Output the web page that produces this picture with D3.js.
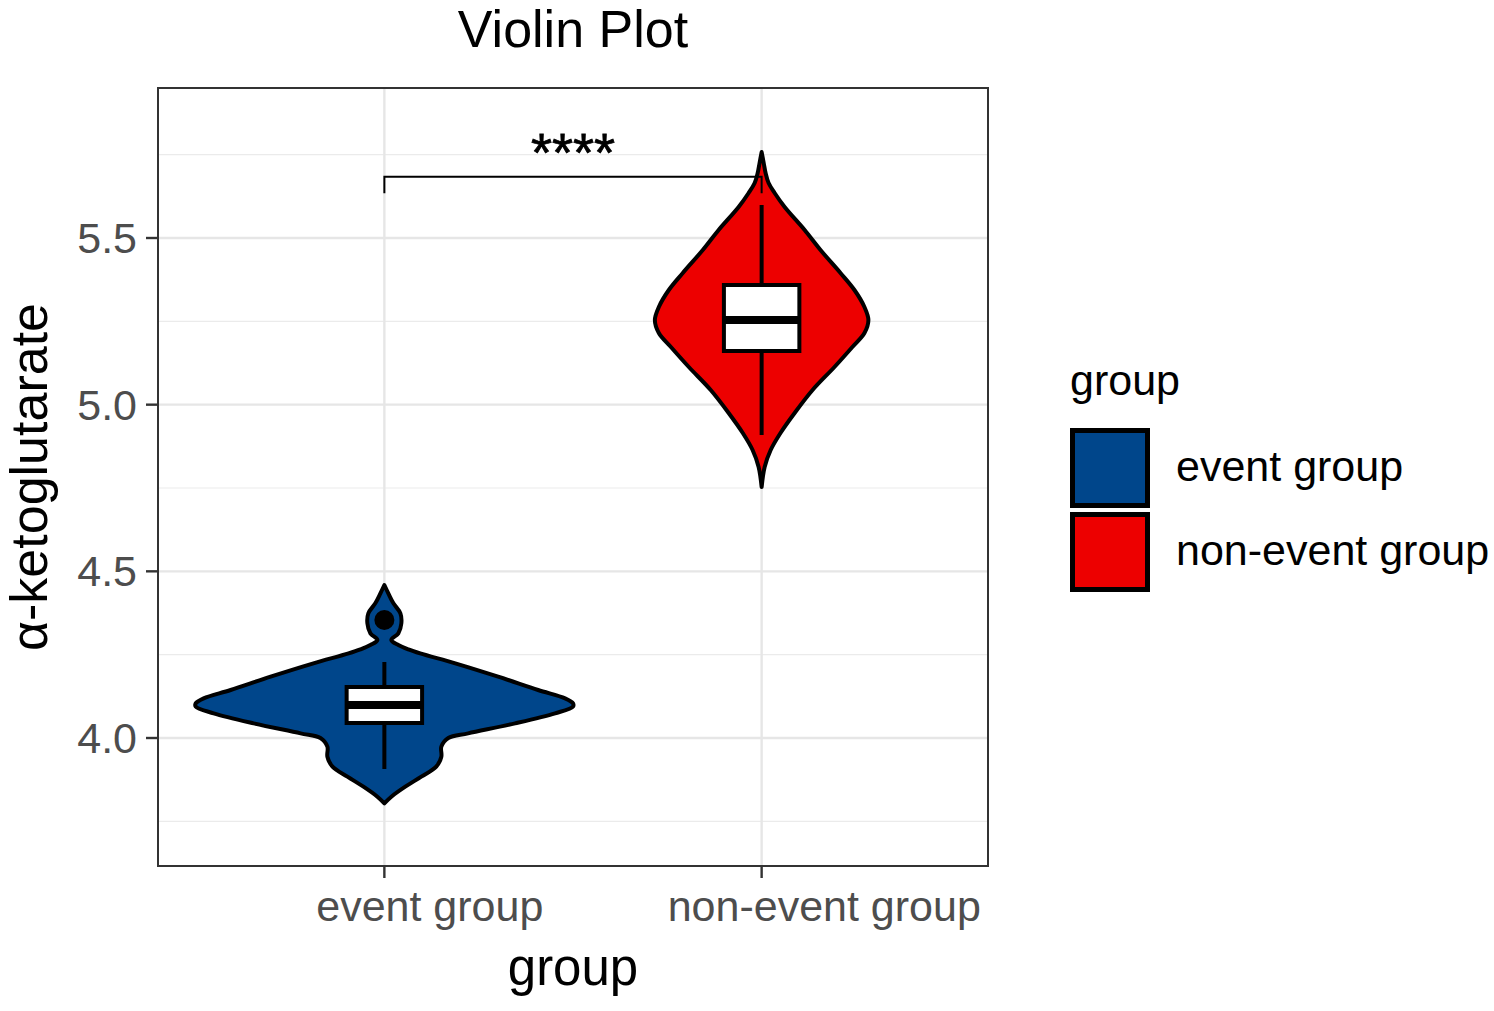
<!DOCTYPE html>
<html>
<head>
<meta charset="utf-8">
<script src="https://cdn.jsdelivr.net/npm/d3@7"></script>
<style>
  body { margin: 0; background: #fff; }
  text { font-family: "Liberation Sans", Arial, sans-serif; }
</style>
</head>
<body>
<svg id="chart" width="1494" height="1011"></svg>
<script>
// groups and colours
var groups = ["event group", "non-event group"]
var colors = ["#00468B", "#ED0000"]
var yTicks = [4.0, 4.5, 5.0, 5.5]
var yMinor = [3.75, 4.25, 4.75, 5.25, 5.75]

// violin outlines: value and relative density
var eventValues  = [4.459, 4.434, 4.404, 4.374, 4.344, 4.314, 4.294, 4.279, 4.266, 4.254, 4.224, 4.184, 4.144, 4.119, 4.104, 4.094, 4.074, 4.044, 4.014, 4.0, 3.974, 3.944, 3.914, 3.884, 3.854, 3.824, 3.804]
var eventDensity = [0, 0.021, 0.048, 0.085, 0.09, 0.074, 0.037, 0.074, 0.127, 0.19, 0.376, 0.603, 0.815, 0.958, 1.0, 1.0, 0.905, 0.693, 0.444, 0.339, 0.302, 0.302, 0.275, 0.196, 0.111, 0.037, 0]
var nonEventValues  = [5.758, 5.725, 5.695, 5.665, 5.635, 5.593, 5.524, 5.464, 5.395, 5.344, 5.293, 5.254, 5.215, 5.173, 5.113, 5.044, 4.975, 4.915, 4.864, 4.813, 4.753]
var nonEventDensity = [0, 0.011, 0.021, 0.037, 0.069, 0.122, 0.228, 0.312, 0.418, 0.492, 0.545, 0.566, 0.545, 0.481, 0.386, 0.27, 0.175, 0.1, 0.048, 0.016, 0]

// box stats: lower whisker, q1, median, q3, upper whisker
var eventBox = [3.907, 4.045, 4.099, 4.153, 4.228]
var nonEventBox = [4.909, 5.161, 5.254, 5.359, 5.599]
var eventOutliers = [4.354]
var nonEventOutliers = []

var sigLabel = "****"
var sigY = 5.684

var violins = [
  {group: groups[0], values: eventValues, density: eventDensity, box: eventBox, out: eventOutliers},
  {group: groups[1], values: nonEventValues, density: nonEventDensity, box: nonEventBox, out: nonEventOutliers}
]

var svg = d3.select("#chart")
var pLeft = 158, pRight = 988, pTop = 88, pBottom = 866

var x = d3.scalePoint().domain(groups).range([pLeft, pRight]).padding(0.6)
var y = d3.scaleLinear().domain([3.616, 5.95]).range([pBottom, pTop])
var w = d3.scaleLinear().domain([0, 1]).range([0, x.step() * 0.5])
var color = d3.scaleOrdinal().domain(groups).range(colors)

// panel grid
var grid = svg.append("g")
grid.selectAll(".minor").data(yMinor).enter().append("line")
  .attr("x1", pLeft).attr("x2", pRight)
  .attr("y1", d => y(d)).attr("y2", d => y(d))
  .attr("stroke", "#ebebeb").attr("stroke-width", 1.2)
grid.selectAll(".major").data(yTicks).enter().append("line")
  .attr("x1", pLeft).attr("x2", pRight)
  .attr("y1", d => y(d)).attr("y2", d => y(d))
  .attr("stroke", "#e6e6e6").attr("stroke-width", 2.4)
grid.selectAll(".vmajor").data(groups).enter().append("line")
  .attr("x1", d => x(d)).attr("x2", d => x(d))
  .attr("y1", pTop).attr("y2", pBottom)
  .attr("stroke", "#e6e6e6").attr("stroke-width", 2.4)

// violins
var plot = svg.append("g")
violins.forEach(v => {
  var cx = x(v.group)
  var pts = v.values.map((val, i) => ({v: val, d: v.density[i]}))
  var area = d3.area()
    .curve(d3.curveCatmullRom.alpha(0.5))
    .y(d => y(d.v))
    .x0(d => cx - w(d.d))
    .x1(d => cx + w(d.d))
  plot.append("path")
    .datum(pts)
    .attr("d", area)
    .attr("fill", color(v.group))
    .attr("stroke", "#000")
    .attr("stroke-width", 4)
    .attr("stroke-linejoin", "round")

  var bw = x.step() * 0.1
  plot.append("line")
    .attr("x1", cx).attr("x2", cx)
    .attr("y1", y(v.box[0])).attr("y2", y(v.box[4]))
    .attr("stroke", "#000").attr("stroke-width", 4)
  plot.append("rect")
    .attr("x", cx - bw).attr("width", bw * 2)
    .attr("y", y(v.box[3])).attr("height", y(v.box[1]) - y(v.box[3]))
    .attr("fill", "#fff").attr("stroke", "#000").attr("stroke-width", 4)
  plot.append("line")
    .attr("x1", cx - bw).attr("x2", cx + bw)
    .attr("y1", y(v.box[2])).attr("y2", y(v.box[2]))
    .attr("stroke", "#000").attr("stroke-width", 8)
  plot.selectAll(null).data(v.out).enter().append("circle")
    .attr("cx", cx).attr("cy", d => y(d)).attr("r", 10)
    .attr("fill", "#000")
})

// significance bracket
var x1 = x(groups[0]), x2 = x(groups[1])
var tip = 0.05
svg.append("path")
  .attr("d", d3.line()([[x1, y(sigY - tip)], [x1, y(sigY)], [x2, y(sigY)], [x2, y(sigY - tip)]]))
  .attr("fill", "none").attr("stroke", "#000").attr("stroke-width", 2)
svg.append("text")
  .attr("x", (x1 + x2) / 2).attr("y", y(sigY) - 6)
  .attr("text-anchor", "middle")
  .attr("font-size", 54)
  .attr("stroke", "#000").attr("stroke-width", 0.8)
  .text(sigLabel)

// panel border
svg.append("rect")
  .attr("x", pLeft).attr("y", pTop)
  .attr("width", pRight - pLeft).attr("height", pBottom - pTop)
  .attr("fill", "none").attr("stroke", "#333").attr("stroke-width", 2)

// y axis
var yAxis = svg.append("g")
yAxis.selectAll("line").data(yTicks).enter().append("line")
  .attr("x1", pLeft - 12).attr("x2", pLeft)
  .attr("y1", d => y(d)).attr("y2", d => y(d))
  .attr("stroke", "#333").attr("stroke-width", 2.4)
yAxis.selectAll("text").data(yTicks).enter().append("text")
  .attr("x", pLeft - 21).attr("y", d => y(d) + 15)
  .attr("text-anchor", "end")
  .attr("font-size", 43)
  .attr("fill", "#4d4d4d")
  .text(d3.format(".1f"))

// x axis
var xAxis = svg.append("g")
xAxis.selectAll("line").data(groups).enter().append("line")
  .attr("x1", d => x(d)).attr("x2", d => x(d))
  .attr("y1", pBottom).attr("y2", pBottom + 12)
  .attr("stroke", "#333").attr("stroke-width", 2.4)
xAxis.selectAll("text").data(groups).enter().append("text")
  .attr("y", 921)
  .attr("font-size", 43)
  .attr("fill", "#4d4d4d")
  .text(d => d)
  .attr("x", function(d) { return x(d) - 0.3 * this.getComputedTextLength() })

// titles
svg.append("text")
  .attr("x", (pLeft + pRight) / 2).attr("y", 47)
  .attr("text-anchor", "middle").attr("font-size", 52)
  .text("Violin Plot")
svg.append("text")
  .attr("x", (pLeft + pRight) / 2).attr("y", 985)
  .attr("text-anchor", "middle").attr("font-size", 51)
  .text("group")
svg.append("text")
  .attr("transform", `translate(47,${(pTop + pBottom) / 2}) rotate(-90)`)
  .attr("text-anchor", "middle").attr("font-size", 52)
  .text("α-ketoglutarate")

// legend
var legend = svg.append("g").attr("transform", "translate(1070,0)")
legend.append("text")
  .attr("x", 0).attr("y", 395)
  .attr("font-size", 43)
  .text("group")
var keys = legend.selectAll(".key").data(groups).enter().append("g")
  .attr("transform", (d, i) => `translate(0,${428 + i * 84})`)
keys.append("rect")
  .attr("x", 2.5).attr("y", 2.5).attr("width", 75).attr("height", 75)
  .attr("fill", d => color(d)).attr("stroke", "#000").attr("stroke-width", 5)
keys.append("text")
  .attr("x", 106).attr("y", 53)
  .attr("font-size", 43)
  .text(d => d)
</script>
</body>
</html>
